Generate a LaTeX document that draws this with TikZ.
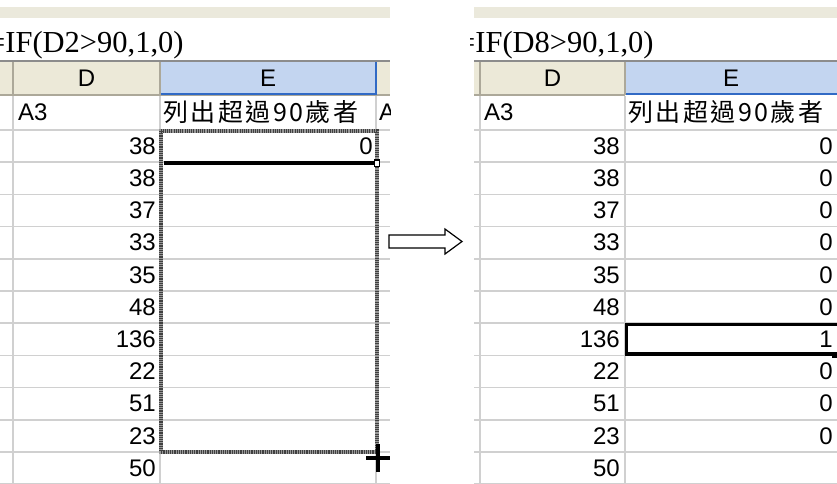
\documentclass[tikz,border=0pt]{standalone}
\usepackage{fontspec}
\setmainfont{Liberation Sans}
\newfontfamily\formfont{Liberation Serif}
\newfontfamily\cjkfont{Noto Sans CJK TC}
\definecolor{barbeige}{HTML}{EBE9DC}
\definecolor{hdrbeige}{HTML}{ECE9D8}
\definecolor{hdrline}{HTML}{ACA899}
\definecolor{selblue}{HTML}{C3D5F0}
\definecolor{selline}{HTML}{316AC5}
\definecolor{gridgray}{HTML}{D0D0D0}

\begin{document}
\begin{tikzpicture}[x=1pt,y=-1pt,
	gridline/.style={draw=gridgray,line width=1.6pt},
	hdrsep/.style={draw=hdrline,line width=1.6pt},
	cell/.style={inner sep=0pt,font=\fontsize{24}{24}\selectfont},
	numcell/.style={cell,anchor=east},
	formula/.style={inner sep=0pt,anchor=base west,font=\formfont\fontsize{30.5}{30.5}\selectfont},
	cjkhead/.style={inner sep=0pt,anchor=west,font=\cjkfont\fontsize{25}{25}\selectfont\addfontfeature{LetterSpace=10}},
	antsbase/.style={draw=black!40,line width=3.4pt},
	ants/.style={draw=black!75,line width=3.4pt,dash pattern=on 1.1pt off 1.1pt},
	active/.style={draw=black,line width=3.5pt}]
	\useasboundingbox (0,0) rectangle (837,484);

	% left sheet: before
	\begin{scope}
		\clip (0,0) rectangle (390,484);
		\fill[barbeige] (0,7) rectangle (390,18);
		\node[formula] (lform) at (-12,53) {=IF(D2>90,1,0)};
		\fill[hdrbeige] (0,61) rectangle (390,95);
		\fill[selblue] (160,61) rectangle (376,94);
		\draw[hdrsep] (0,95) -- (390,95);
		\draw[selline,line width=1.6pt] (160,94) -- (376,94) (376,61) -- (376,95);
		\draw[hdrsep] (13,61) -- (13,95) (160,61) -- (160,95);
		\draw[draw=black!45,line width=2pt] (0,61) -- (390,61);
		\foreach \r in {0,...,11}
			\draw[gridline] (0,130+32.2*\r) -- (390,130+32.2*\r);
		\foreach \c in {13,160,376}
			\draw[gridline] (\c,96) -- (\c,484);
		\node[cell] (lD) at (86.5,78) {D};
		\node[cell] (lE) at (268,78) {E};
		\node[cell,anchor=west] (la3) at (18,112.5) {A3};
		\node[cjkhead] (lhead) at (163,112.5) {列出超過90歲者};
		\node[cell,anchor=west] (lf) at (379,112.5) {A};
		\foreach \v [count=\i] in {38,38,37,33,35,48,136,22,51,23,50}
			\node[numcell] (ld\i) at (156,130+32.2*\i-16.1) {\v};
		\node[numcell] (le1) at (373,146.1) {0};
		% copy range and fill handle
		\draw[antsbase] (161,131) rectangle (377,452);
		\draw[ants] (161,131) rectangle (377,452);
		\draw[active] (163.5,163) -- (374,163);
		\draw[fill=white,line width=1.2pt] (374.5,160) rectangle (379.5,166.5);
		\draw[line width=4.5pt] (366,458) -- (390,458) (378,444) -- (378,472);
	\end{scope}

	% hollow arrow
	\draw[line width=1.2pt,fill=white,line join=miter]
		(389,235) -- (445,235) -- (445,229) -- (462,241.5) -- (445,254)
		-- (445,248) -- (389,248) -- cycle;

	% right sheet: after
	\begin{scope}
		\clip (470,0) rectangle (837,484);
		\fill[barbeige] (474,7) rectangle (837,18);
		\node[formula] (rform) at (458,53) {=IF(D8>90,1,0)};
		\fill[hdrbeige] (474,61) rectangle (625,95);
		\fill[selblue] (625,61) rectangle (837,94);
		\draw[hdrsep] (474,95) -- (625,95);
		\draw[selline,line width=1.6pt] (625,94) -- (837,94);
		\draw[hdrsep] (480,61) -- (480,95) (625,61) -- (625,95);
		\draw[draw=black!45,line width=2pt] (474,61) -- (837,61);
		\foreach \r in {0,...,11}
			\draw[gridline] (474,130+32.2*\r) -- (837,130+32.2*\r);
		\foreach \c in {480,625}
			\draw[gridline] (\c,96) -- (\c,484);
		\node[cell] (rD) at (552.5,78) {D};
		\node[cell] (rE) at (731,78) {E};
		\node[cell,anchor=west] (ra3) at (484,112.5) {A3};
		\node[cjkhead] (rhead) at (628,112.5) {列出超過90歲者};
		\foreach \v [count=\i] in {38,38,37,33,35,48,136,22,51,23,50}
			\node[numcell] (rd\i) at (620,130+32.2*\i-16.1) {\v};
		\foreach \v [count=\i] in {0,0,0,0,0,0,1,0,0,0}
			\node[numcell] (re\i) at (833,130+32.2*\i-16.1) {\v};
		% selected result cell
		\draw[active] (626.5,324.5) rectangle (840,354);
		\fill (832,353) rectangle (837,358);
	\end{scope}
\end{tikzpicture}
\end{document}
